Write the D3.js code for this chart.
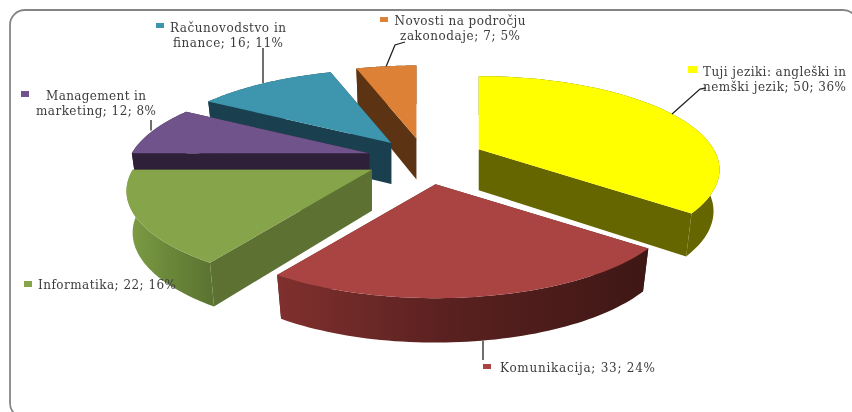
<!DOCTYPE html>
<html>
<head>
<meta charset="utf-8">
<script src="https://cdn.jsdelivr.net/npm/d3@7"></script>
<style>
  html, body { margin: 0; padding: 0; background: #fff; }
  svg { display: block; filter: blur(0.5px); }
  text { font-family: "DejaVu Serif", serif; font-size: 12px; fill: #3c3c3c; }
</style>
</head>
<body>
<div id="chart"></div>
<script>
const categories = ['Tuji jeziki: angleški in nemški jezik', 'Komunikacija', 'Informatika',
  'Management in marketing', 'Računovodstvo in finance', 'Novosti na področju zakonodaje'];
const counts = [50, 33, 22, 12, 16, 7];
const percents = [36, 24, 16, 8, 11, 5];

const topColors = ['#ffff00', '#a94442', '#86a44a', '#70538a', '#3d96ae', '#dc8136'];
const cutColors = ['#666600', '#5a2120', '#5d7232', '#2e2038', '#1a3f4e', '#5c3313'];
const wallLeft = ['#666600', '#80302e', '#7f9e46', '#2e2038', '#1a3f4e', '#5c3313'];
const wallMid = ['#666600', '#5a2120', '#6c8a3a', '#2e2038', '#1a3f4e', '#5c3313'];
const wallRight = ['#666600', '#3e1715', '#5c7431', '#2e2038', '#1a3f4e', '#5c3313'];

// how far each slice is pulled out, and small rim corrections for the skewed render
const explode = [0.26, 0.27, 0.25, 0.25, 0.24, 0.245];
const rimScale = [1, 1, 1.018, 1.01, 1.01, 1];

// label lines and their placement, same order as categories
const labelLines = [
  ['Tuji jeziki: angleški in', 'nemški jezik; 50; 36%'],
  ['Komunikacija; 33; 24%'],
  ['Informatika; 22; 16%'],
  ['Management in', 'marketing; 12; 8%'],
  ['Računovodstvo in', 'finance; 16; 11%'],
  ['Novosti na področju', 'zakonodaje; 7; 5%']
];
const labelPos = [
  { x: 703, y: 76, w: [143, 143], anchor: 'start', key: [688, 66, 9, 7] },
  { x: 500, y: 372, w: [155], anchor: 'start', key: [483, 364, 8, 5] },
  { x: 38, y: 289, w: [138], anchor: 'start', key: [24, 281, 8, 6] },
  { x: 96, y: 100, w: [100, 120], anchor: 'middle', key: [21, 91, 8, 6] },
  { x: 228, y: 32, w: [116, 110], anchor: 'middle', key: [156, 23, 8, 5] },
  { x: 460, y: 25, w: [131, 120], anchor: 'middle', key: [380, 17, 8, 5] }
];
// elbow points of the leader lines (null = no leader)
const leaderEnds = [
  [[700, 89], [706, 88]],
  [[483, 360]],
  null,
  [[151, 120]],
  [[263, 48]],
  [[395, 45], [405, 42]]
];

const width = 852;
const height = 412;
const cx = 425;
const cy = 159;
const radiusX = 235;
const radiusY = 89;
const persp = 0.219;

const svg = d3.select('#chart').append('svg')
  .attr('width', width)
  .attr('height', height);

const defs = svg.append('defs');

// Card frame
svg.append('rect')
  .attr('x', 10).attr('y', 10)
  .attr('width', 848).attr('height', 408)
  .attr('rx', 15)
  .attr('fill', '#fff')
  .attr('stroke', '#858585')
  .attr('stroke-width', 1.8);

const pie = d3.pie().sort(null).startAngle(0).endAngle(2 * Math.PI);
const arcs = pie(counts);

// Perspective projection of a point on the unit disc, relative to its apex
function project(theta, r) {
  const s = r * Math.sin(theta);
  const c = r * Math.cos(theta);
  const den = 1 + persp * c;
  return [radiusX * s / den, -radiusY * c / den];
}

const line = d3.line();

const slices = arcs.map((a, i) => {
  const mid = (a.startAngle + a.endAngle) / 2;
  const off = project(mid, explode[i]);
  const ax = cx + off[0];
  const ay = cy + off[1];
  const topPt = (theta, r) => {
    const p = project(theta, r * rimScale[i]);
    return [ax + p[0], ay + p[1]];
  };
  const botPt = (theta, r) => {
    const p = project(theta, r * rimScale[i]);
    return [ax + p[0] * 0.975, ay + p[1] * 1.03 + 41];
  };
  const angles = d3.range(0, 61).map(k => a.startAngle + (a.endAngle - a.startAngle) * k / 60);
  return { i, a, mid, ax, ay, topPt, botPt, angles };
});

// Painter's order, back slices first
const drawOrder = [5, 4, 3, 2, 0, 1];

drawOrder.forEach(idx => {
  const sl = slices[idx];
  const g = svg.append('g').attr('class', 'slice');

  [sl.a.startAngle, sl.a.endAngle].forEach(t => {
    g.append('path')
      .attr('d', line([sl.topPt(t, 0), sl.topPt(t, 1), sl.botPt(t, 1), sl.botPt(t, 0)]) + 'Z')
      .attr('fill', cutColors[idx]);
  });

  const gradId = 'wall' + idx;
  const xs = sl.angles.map(t => sl.topPt(t, 1)[0]);
  const grad = defs.append('linearGradient')
    .attr('id', gradId)
    .attr('gradientUnits', 'userSpaceOnUse')
    .attr('x1', d3.min(xs)).attr('x2', d3.max(xs))
    .attr('y1', 0).attr('y2', 0);
  grad.append('stop').attr('offset', 0).attr('stop-color', wallLeft[idx]);
  grad.append('stop').attr('offset', 0.45).attr('stop-color', wallMid[idx]);
  grad.append('stop').attr('offset', 1).attr('stop-color', wallRight[idx]);

  const wall = sl.angles.map(t => sl.topPt(t, 1))
    .concat(sl.angles.slice().reverse().map(t => sl.botPt(t, 1)));
  g.append('path')
    .attr('d', line(wall) + 'Z')
    .attr('fill', `url(#${gradId})`);

  const top = [sl.topPt(0, 0)].concat(sl.angles.map(t => sl.topPt(t, 1)));
  g.append('path')
    .attr('d', line(top) + 'Z')
    .attr('fill', topColors[idx]);
});

// Leader lines start on the rim at the slice's mid angle
slices.forEach((sl, i) => {
  if (!leaderEnds[i]) return;
  const start = i === 1 ? sl.botPt(sl.mid, 1) : sl.topPt(sl.mid, 1);
  const ends = leaderEnds[i];
  // single-segment leaders are plumb vertical
  const pts = ends.length === 1 ? [[ends[0][0], start[1]], ends[0]] : [start].concat(ends);
  svg.append('path')
    .attr('d', line(pts))
    .attr('fill', 'none')
    .attr('stroke', '#222')
    .attr('stroke-width', 1.3);
});

// Data labels
labelLines.forEach((lines, i) => {
  const pos = labelPos[i];
  svg.append('rect')
    .attr('x', pos.key[0]).attr('y', pos.key[1])
    .attr('width', pos.key[2]).attr('height', pos.key[3])
    .attr('fill', topColors[i]);
  lines.forEach((t, j) => {
    svg.append('text')
      .attr('x', pos.x)
      .attr('y', pos.y + j * 14.5)
      .attr('text-anchor', pos.anchor)
      .attr('textLength', pos.w[j])
      .attr('lengthAdjust', 'spacing')
      .text(t);
  });
});
</script>
</body>
</html>
